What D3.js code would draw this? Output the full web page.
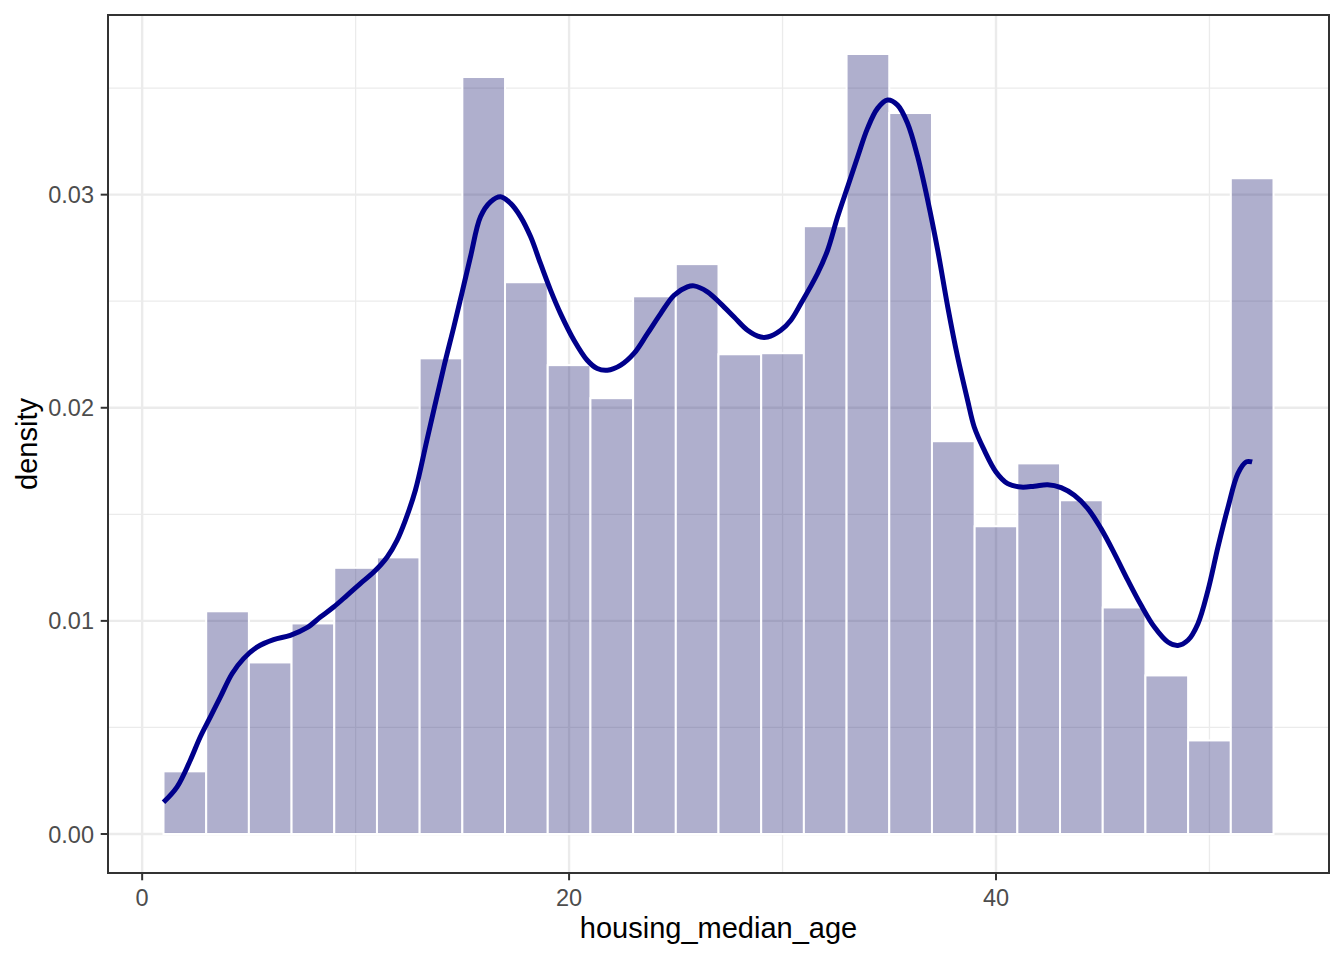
<!DOCTYPE html>
<html>
<head>
<meta charset="utf-8">
<script src="https://cdn.jsdelivr.net/npm/d3@7"></script>
<style>
  html, body { margin: 0; padding: 0; background: #fff; }
  svg { display: block; font-family: "Liberation Sans", Arial, sans-serif; }
</style>
</head>
<body>
<svg id="chart" width="1344" height="960"></svg>
<script>
// histogram bins (edges) and their densities
const binEdges = [1, 3, 5, 7, 9, 11, 13, 15, 17, 19, 21, 23, 25, 27, 29, 31, 33, 35, 37, 39, 41, 43, 45, 47, 49, 51, 53];
const binDensity = [0.00294, 0.01045, 0.00805, 0.00988, 0.01249, 0.01298, 0.02232, 0.03552, 0.02589, 0.02200,
                    0.02045, 0.02523, 0.02674, 0.02251, 0.02256, 0.02852, 0.03660, 0.03383, 0.01843, 0.01444,
                    0.01739, 0.01566, 0.01063, 0.00744, 0.00439, 0.03077];

// kernel density curve
const kdeX = [1.0, 1.63, 2.25, 2.72, 3.19, 3.66, 4.21, 4.75, 5.38, 6.16, 6.94, 7.72, 8.35, 8.97, 9.6, 10.22,
              10.85, 11.48, 11.94, 12.33, 12.8, 13.35, 14.13, 14.6, 14.99, 15.38, 15.85, 16.32, 16.79, 17.26,
              17.73, 18.2, 18.66, 19.13, 19.6, 20.23, 20.85, 21.32, 21.79, 22.42, 23.04, 23.67, 24.29, 24.92,
              25.54, 25.85, 26.48, 27.1, 27.73, 28.36, 28.98, 29.3, 29.92, 30.39, 30.86, 31.64, 32.11, 32.58,
              33.05, 33.52, 33.98, 34.45, 34.92, 35.39, 35.86, 36.33, 36.8, 37.27, 37.74, 38.2, 38.67, 38.98,
              39.45, 40.0, 40.55, 41.17, 41.8, 42.42, 43.05, 43.67, 44.3, 44.92, 45.55, 46.18, 46.8, 47.42,
              48.05, 48.52, 48.99, 49.46, 49.93, 50.4, 50.87, 51.33, 51.72, 52.0];
const kdeY = [0.00149, 0.0022, 0.00345, 0.00455, 0.00548, 0.00642, 0.00752, 0.00823, 0.00877, 0.00912,
              0.00932, 0.00968, 0.01018, 0.01065, 0.0112, 0.01175, 0.01229, 0.013, 0.01378, 0.01472,
              0.01613, 0.01852, 0.0219, 0.02379, 0.02542, 0.02708, 0.02896, 0.02966, 0.0299, 0.02959,
              0.02896, 0.02802, 0.02677, 0.02552, 0.02442, 0.02317, 0.02223, 0.02184, 0.02176, 0.022,
              0.02255, 0.02348, 0.02442, 0.02528, 0.02567, 0.02572, 0.02544, 0.02489, 0.02426, 0.02364,
              0.02332, 0.02332, 0.02364, 0.02411, 0.02489, 0.0263, 0.02739, 0.02896, 0.03037, 0.03178,
              0.03311, 0.03405, 0.03444, 0.0342, 0.03334, 0.03178, 0.02974, 0.02739, 0.02473, 0.02239,
              0.02035, 0.0191, 0.01801, 0.01699, 0.01644, 0.01628, 0.01632, 0.01639, 0.01625, 0.01589,
              0.01527, 0.01433, 0.01316, 0.0119, 0.01073, 0.00971, 0.00901, 0.00885, 0.00909, 0.00987,
              0.01143, 0.01347, 0.01534, 0.01691, 0.01746, 0.01746];

const xTicks = [0, 20, 40];
const xMinor = [10, 30, 50];
const yTicks = [0, 0.01, 0.02, 0.03];
const yMinor = [0.005, 0.015, 0.025, 0.035];
const yTickLabels = ["0.00", "0.01", "0.02", "0.03"];

const panel = { left: 108, right: 1329, top: 15, bottom: 873 };

const svg = d3.select("#chart");

// ggplot style 5% expansion
const xMin = binEdges[0], xMax = binEdges[binEdges.length - 1];
const yMax = d3.max(binDensity);
const xPad = (xMax - xMin) * 0.05, yPad = yMax * 0.05;

const x = d3.scaleLinear().domain([xMin - xPad, xMax + xPad]).range([panel.left, panel.right]);
const y = d3.scaleLinear().domain([-yPad, yMax + yPad]).range([panel.bottom, panel.top]);

svg.append("rect")
    .attr("width", 1344).attr("height", 960).attr("fill", "#fff");

const grid = svg.append("g");

// minor grid
grid.selectAll("line.xminor").data(xMinor).enter().append("line")
    .attr("x1", d => x(d)).attr("x2", d => x(d))
    .attr("y1", panel.top).attr("y2", panel.bottom)
    .attr("stroke", "#ebebeb").attr("stroke-width", 1.3);
grid.selectAll("line.yminor").data(yMinor).enter().append("line")
    .attr("y1", d => y(d)).attr("y2", d => y(d))
    .attr("x1", panel.left).attr("x2", panel.right)
    .attr("stroke", "#ebebeb").attr("stroke-width", 1.3);

// major grid
grid.selectAll("line.xmajor").data(xTicks).enter().append("line")
    .attr("x1", d => x(d)).attr("x2", d => x(d))
    .attr("y1", panel.top).attr("y2", panel.bottom)
    .attr("stroke", "#ebebeb").attr("stroke-width", 2.4);
grid.selectAll("line.ymajor").data(yTicks).enter().append("line")
    .attr("y1", d => y(d)).attr("y2", d => y(d))
    .attr("x1", panel.left).attr("x2", panel.right)
    .attr("stroke", "#ebebeb").attr("stroke-width", 2.4);

// histogram bars
const bins = binDensity.map((v, i) => ({ x0: binEdges[i], x1: binEdges[i + 1], v: v }));

svg.append("g").selectAll("rect").data(bins).enter().append("rect")
    .attr("x", d => x(d.x0))
    .attr("width", d => x(d.x1) - x(d.x0))
    .attr("y", d => y(d.v))
    .attr("height", d => y(0) - y(d.v))
    .attr("fill", "#191970")
    .attr("fill-opacity", 0.35)
    .attr("stroke", "#fff")
    .attr("stroke-width", 2);

// density line
const line = d3.line()
    .x(d => x(d[0]))
    .y(d => y(d[1]))
    .curve(d3.curveCatmullRom.alpha(0.5));

svg.append("path")
    .datum(kdeX.map((v, i) => [v, kdeY[i]]))
    .attr("d", line)
    .attr("fill", "none")
    .attr("stroke", "#00008b")
    .attr("stroke-width", 5)
    .attr("stroke-linejoin", "round")
    .attr("stroke-linecap", "butt");

// panel border
svg.append("rect")
    .attr("x", panel.left).attr("y", panel.top)
    .attr("width", panel.right - panel.left)
    .attr("height", panel.bottom - panel.top)
    .attr("fill", "none")
    .attr("stroke", "#333333")
    .attr("stroke-width", 2);

// axes
const xAxis = svg.append("g");
xAxis.selectAll("line").data(xTicks).enter().append("line")
    .attr("x1", d => x(d)).attr("x2", d => x(d))
    .attr("y1", panel.bottom).attr("y2", panel.bottom + 7.3)
    .attr("stroke", "#333333").attr("stroke-width", 2);
xAxis.selectAll("text").data(xTicks).enter().append("text")
    .attr("x", d => x(d))
    .attr("y", 906)
    .attr("text-anchor", "middle")
    .attr("font-size", "23.5px")
    .attr("fill", "#4d4d4d")
    .text(d => d);

const yAxis = svg.append("g");
yAxis.selectAll("line").data(yTicks).enter().append("line")
    .attr("y1", d => y(d)).attr("y2", d => y(d))
    .attr("x1", panel.left - 7.3).attr("x2", panel.left)
    .attr("stroke", "#333333").attr("stroke-width", 2);
yAxis.selectAll("text").data(yTicks).enter().append("text")
    .attr("x", 94)
    .attr("y", d => y(d) + 8.6)
    .attr("text-anchor", "end")
    .attr("font-size", "23.5px")
    .attr("fill", "#4d4d4d")
    .text((d, i) => yTickLabels[i]);

// axis titles
svg.append("text")
    .attr("x", (panel.left + panel.right) / 2)
    .attr("y", 938)
    .attr("text-anchor", "middle")
    .attr("font-size", "29px")
    .attr("fill", "#000")
    .text("housing_median_age");

svg.append("text")
    .attr("transform", `translate(37,${(panel.top + panel.bottom) / 2}) rotate(-90)`)
    .attr("text-anchor", "middle")
    .attr("font-size", "29px")
    .attr("fill", "#000")
    .text("density");
</script>
</body>
</html>
